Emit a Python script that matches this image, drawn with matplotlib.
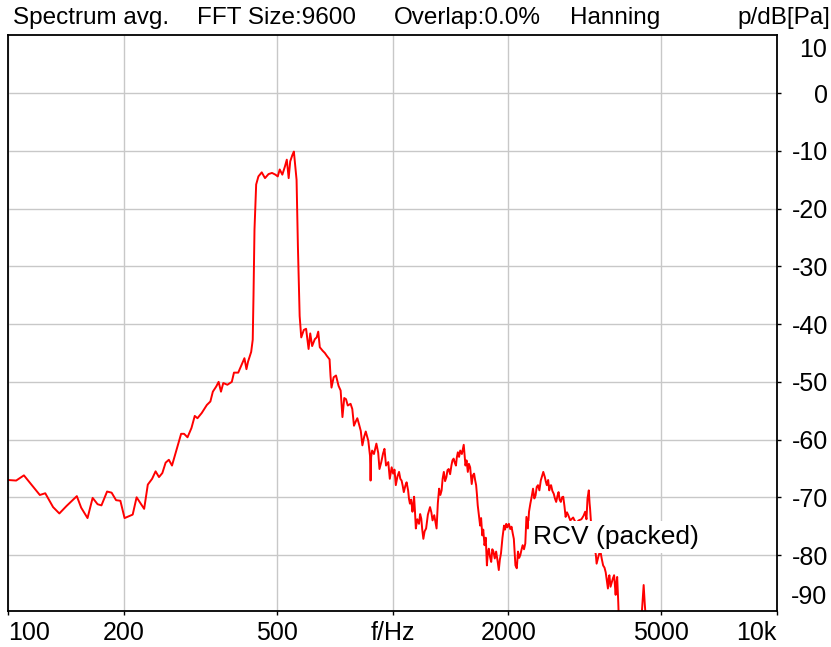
import numpy as np
import matplotlib
matplotlib.use('Agg')
import matplotlib.pyplot as plt

plt.rcParams['font.family'] = ['Liberation Sans', 'DejaVu Sans']

# spectrum (f in Hz, level in dB re Pa)
freq = [100, 105, 110, 121, 125, 131, 136, 142, 151, 155, 161, 166, 171, 175, 181, 186,
        191, 196, 201, 211, 216, 226, 231, 237, 242, 247, 252, 257, 262, 267, 275, 282,
        287, 293, 300, 306, 311, 319, 329, 336, 341, 348, 353, 358, 363, 372, 382, 387,
        397, 403, 412, 417, 421, 429, 433, 435, 437.6, 442, 448, 457, 466, 476, 486, 496,
        503, 509, 517, 525, 531, 537, 542, 549, 554, 563, 567.5, 573.5, 579, 588, 596, 605,
        611, 618, 628, 635, 641, 647, 658, 667, 675, 686, 690, 694, 703, 713, 724, 733,
        741, 749, 757, 765, 778, 786, 794, 802, 810, 818, 827, 835, 844, 852, 865, 874,
        877, 880, 885, 895, 908, 918, 925, 935, 945, 953, 962, 975, 984, 995, 1004, 1012,
        1020, 1030, 1040, 1048, 1056, 1063, 1070, 1080, 1088, 1098, 1104, 1110, 1118, 1127, 1133, 1138,
        1144, 1150, 1160, 1172, 1180, 1188, 1195, 1203, 1212, 1223, 1236, 1252, 1262, 1271, 1284, 1293,
        1302, 1312, 1322, 1332, 1342, 1350, 1360, 1370, 1381, 1390, 1400, 1412, 1423, 1432, 1442, 1452,
        1462, 1470, 1479, 1490, 1500, 1515, 1532, 1540, 1548, 1558, 1570, 1580, 1592, 1600, 1607, 1618,
        1630, 1640, 1650, 1658, 1666, 1678, 1690, 1700, 1712, 1722, 1735, 1748, 1760, 1770, 1780, 1793,
        1806, 1818, 1830, 1845, 1860, 1875, 1890, 1902, 1915, 1932, 1950, 1962, 1976, 1990, 2008, 2024,
        2040, 2055, 2068, 2080, 2088, 2105, 2120, 2135, 2150, 2165, 2180, 2198, 2215, 2230, 2250, 2265,
        2283, 2300, 2320, 2338, 2355, 2372, 2390, 2410, 2430, 2450, 2467, 2490, 2505, 2520, 2540, 2557,
        2570, 2585, 2605, 2627, 2645, 2665, 2685, 2703, 2720, 2740, 2760, 2780, 2800, 2820, 2843, 2865,
        2900, 2950, 3000, 3050, 3100, 3140, 3170, 3195, 3215, 3240, 3255, 3265, 3280, 3320, 3350, 3380,
        3395, 3430, 3470, 3500, 3530, 3560, 3585, 3610, 3633, 3650, 3665, 3690, 3720, 3745, 3770, 3790,
        3805, 3820, 3840, 3855, 3865, 3880, 3950, 4100, 4300, 4420, 4460, 4500, 4530, 4570, 4650, 5000,
        7000, 10000]
level = [-67.0, -67.1, -66.2, -69.6, -69.3, -71.7, -72.8, -71.5, -69.8, -71.8, -73.6, -70.1, -71.2, -71.4, -69.0, -69.2,
         -70.5, -70.6, -73.6, -73.0, -70.0, -72.0, -67.8, -66.8, -65.5, -66.5, -65.8, -64.0, -63.5, -64.5, -61.5, -59.0,
         -59.0, -59.6, -58.0, -55.9, -56.3, -55.4, -54.0, -53.4, -51.7, -50.8, -50.0, -51.7, -50.2, -50.5, -50.0, -48.4,
         -48.4, -47.4, -45.9, -47.8, -46.5, -44.8, -42.7, -35.1, -23.6, -15.8, -14.4, -13.7, -14.7, -14.0, -13.8, -14.1,
         -14.4, -13.2, -14.1, -12.7, -11.5, -14.7, -11.8, -10.7, -10.1, -15.0, -26.5, -38.6, -42.3, -41.0, -40.8, -44.3,
         -41.6, -43.8, -42.6, -42.3, -41.3, -44.0, -44.6, -45.0, -45.5, -46.1, -49.0, -51.0, -49.2, -48.9, -50.7, -51.5,
         -56.1, -52.8, -53.0, -54.1, -53.8, -54.7, -57.6, -56.9, -56.3, -57.3, -58.5, -61.0, -59.5, -58.6, -60.2, -62.8,
         -67.1, -63.0, -61.9, -62.5, -60.7, -62.3, -65.1, -63.9, -62.4, -61.6, -64.5, -63.9, -66.8, -64.8, -65.9, -65.2,
         -67.9, -66.4, -65.6, -66.8, -67.1, -68.0, -69.1, -68.0, -67.4, -68.8, -70.3, -71.1, -70.4, -72.5, -71.2, -69.9,
         -72.4, -75.4, -73.8, -74.6, -72.9, -73.7, -75.6, -77.2, -75.9, -75.4, -73.0, -71.7, -72.6, -74.0, -73.1, -74.3,
         -75.4, -71.0, -68.5, -69.6, -68.8, -66.8, -65.6, -67.2, -66.5, -65.3, -65.1, -66.0, -64.5, -63.6, -63.3, -64.0,
         -64.5, -63.1, -62.2, -63.0, -61.9, -62.5, -60.9, -62.8, -64.5, -63.6, -65.6, -64.2, -64.8, -66.4, -67.7, -66.2,
         -65.9, -67.0, -67.9, -69.5, -71.4, -73.2, -74.9, -73.6, -76.6, -75.6, -78.3, -77.0, -81.8, -79.6, -78.9, -80.3,
         -81.2, -79.0, -79.4, -80.6, -79.4, -80.9, -82.6, -80.8, -79.7, -77.0, -74.9, -75.6, -74.6, -75.2, -74.6, -75.5,
         -75.1, -76.3, -77.2, -79.8, -81.8, -82.3, -79.4, -80.5, -80.0, -79.1, -78.3, -79.0, -78.0, -73.4, -75.4, -72.5,
         -71.1, -70.0, -68.5, -70.2, -69.7, -68.2, -67.9, -68.8, -67.1, -66.3, -65.6, -66.5, -67.3, -67.9, -67.0, -68.8,
         -68.0, -67.9, -68.9, -69.4, -70.2, -70.8, -69.8, -69.1, -70.4, -70.8, -70.0, -69.9, -71.5, -73.4, -72.6, -73.1,
         -74.0, -73.5, -74.5, -74.0, -73.8, -73.2, -72.5, -73.8, -70.2, -68.8, -71.0, -72.0, -74.0, -77.0, -78.5, -80.0,
         -81.5, -80.3, -79.2, -80.6, -81.8, -82.2, -83.0, -84.5, -85.8, -84.0, -83.5, -85.5, -84.7, -84.0, -83.5, -85.4,
         -86.9, -85.0, -83.8, -86.5, -88.2, -91.5, -96.0, -97.0, -96.0, -93.0, -89.0, -85.2, -88.5, -92.0, -97.0, -99.0,
         -100.0, -101.0]

xticks = [100, 200, 500, 1000, 2000, 5000, 10000]
xlabels = ['100', '200', '500', 'f/Hz', '2000', '5000', '10k']
yticks = [0, -10, -20, -30, -40, -50, -60, -70, -80]
title_parts = ['Spectrum avg.', 'FFT Size:9600', 'Overlap:0.0%', 'Hanning']

W, H = 831, 647
fig = plt.figure(figsize=(W/100, H/100), dpi=100)
ax = fig.add_axes([8/W, 1-611/H, (777-8)/W, (611-34.7)/H])

ax.plot(freq, level, color='red', lw=1.4)

ax.set_xscale('log')
ax.set_xlim(100, 10000)
ax.set_ylim(-89.7, 10.15)
ax.xaxis.set_minor_locator(matplotlib.ticker.NullLocator())
ax.set_xticks(xticks)
ax.set_xticklabels(xlabels)
lbls = ax.get_xticklabels()
lbls[0].set_ha('left')
lbls[-1].set_ha('right')

ax.yaxis.tick_right()
ax.set_yticks(yticks)
ax.set_yticklabels([str(v) for v in yticks])
for t in ax.get_yticklabels():
    t.set_ha('right')

ax.tick_params(axis='x', direction='out', length=3, width=1, pad=4, labelsize=18)
ax.tick_params(axis='y', direction='out', length=3, width=1, pad=34, labelsize=18)

ax.grid(True, color='#c8c8c8', lw=1.0)
ax.set_axisbelow(True)
for s in ax.spines.values():
    s.set_linewidth(1.3)
    s.set_color('black')

# outer y labels that the program shifted inside the frame
ax.text(827/W, 1-50/H, '10', transform=fig.transFigure, ha='right', va='center', fontsize=18)
ax.text(827/W, 1-597.5/H, '-90', transform=fig.transFigure, ha='right', va='center', fontsize=18)

# header line
xs = [13, 197, 394, 570]
for x0, s in zip(xs, title_parts):
    fig.text(x0/W, 1-18/H, s, ha='left', va='center', fontsize=17.5)
fig.text(830/W, 1-18/H, 'p/dB[Pa]', ha='right', va='center', fontsize=17.5)

ax.text(2323, -76.9, 'RCV (packed)', ha='left', va='center', fontsize=19,
        bbox=dict(facecolor='white', edgecolor='none', pad=3))

plt.savefig('out.png', dpi=100)
